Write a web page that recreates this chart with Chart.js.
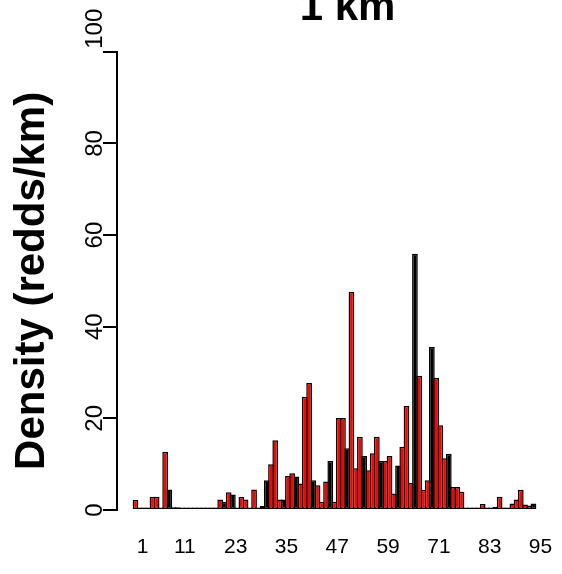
<!DOCTYPE html>
<html lang="en">
<head>
<meta charset="UTF-8">
<title>1 km</title>
<script src="https://cdn.jsdelivr.net/npm/chart.js"></script>
<style>
  html, body { margin: 0; padding: 0; background: #ffffff; }
  #reddChart { display: block; }
</style>
</head>
<body>
<canvas id="reddChart" width="562" height="574"></canvas>
<script>
// reach index (1 km sections) and redd density per section
const reachKm = [
   1,  2,  3,  4,  5,  6,  7,  8,  9, 10, 11, 12, 13, 14, 15, 16, 17, 18, 19, 20,
  21, 22, 23, 24, 25, 26, 27, 28, 29, 30, 31, 32, 33, 34, 35, 36, 37, 38, 39, 40,
  41, 42, 43, 44, 45, 46, 47, 48, 49, 50, 51, 52, 53, 54, 55, 56, 57, 58, 59, 60,
  61, 62, 63, 64, 65, 66, 67, 68, 69, 70, 71, 72, 73, 74, 75, 76, 77, 78, 79, 80,
  81, 82, 83, 84, 85, 86, 87, 88, 89, 90, 91, 92, 93, 94, 95
];
const reddDensity = [
  2.2, 0, 0, 0, 2.9, 2.9, 0, 12.7, 4.5, 0.6,
  0.6, 0, 0, 0, 0, 0, 0.5, 0, 0, 0.5,
  2.3, 1.8, 3.9, 3.4, 0, 2.9, 2.3, 0, 4.5, 0,
  0.9, 6.5, 10.0, 15.2, 2.3, 2.3, 7.4, 8.0, 7.3, 5.8,
  24.7, 27.7, 6.5, 5.4, 1.8, 6.2, 10.7, 1.8, 20.1, 20.1,
  13.5, 47.6, 9.1, 16.0, 11.8, 8.7, 12.4, 16.0, 10.7, 10.7,
  11.8, 3.6, 9.7, 13.8, 22.7, 5.9, 55.9, 29.3, 4.4, 6.5,
  35.6, 28.8, 18.5, 11.3, 12.3, 5.0, 5.0, 4.0, 0, 0,
  0, 0, 1.3, 0.5, 0.5, 0.7, 2.9, 0, 0, 1.4,
  2.3, 4.4, 1.2, 1.0, 1.4
];
// sections whose narrow bars render as solid outline
const solidBars = [9, 22, 24, 32, 36, 39, 43, 47, 51, 55, 59, 63, 67, 71, 75, 95];

const xTickLabels = ['1', '11', '23', '35', '47', '59', '71', '83', '95'];
const yTickValues = [0, 20, 40, 60, 80, 100];
const chartTitle = '1 km';

const FONT = "'Liberation Sans', Arial, Helvetica, sans-serif";

// y tick labels run parallel to the axis; the top one sits above the axis end
const sideTickLabels = {
    id: 'sideTickLabels',
    afterDraw(chart) {
        const ctx = chart.ctx;
        const y = chart.scales.y;
        const x0 = chart.chartArea.left - 15;
        const top = yTickValues[yTickValues.length - 1];
        ctx.save();
        ctx.fillStyle = '#000';
        ctx.font = '24px ' + FONT;
        ctx.textBaseline = 'alphabetic';
        yTickValues.forEach(v => {
            ctx.save();
            ctx.translate(x0, y.getPixelForValue(v) - (v === top ? 3 : 0));
            ctx.rotate(-Math.PI / 2);
            ctx.textAlign = v === top ? 'left' : 'center';
            ctx.fillText(String(v), 0, 0);
            ctx.restore();
        });
        ctx.restore();
    }
};

// bold main title, partly above the top edge
const mainTitle = {
    id: 'mainTitle',
    afterDraw(chart) {
        const { ctx, chartArea } = chart;
        ctx.save();
        ctx.fillStyle = '#000';
        ctx.font = 'bold 42px ' + FONT;
        ctx.textAlign = 'center';
        ctx.textBaseline = 'middle';
        ctx.fillText(chartTitle, (chartArea.left + chartArea.right) / 2 + 13, 8.4);
        ctx.restore();
    }
};

new Chart(document.getElementById('reddChart'), {
    type: 'bar',
    data: {
        datasets: [{
            data: reachKm.map((km, i) => ({ x: km, y: reddDensity[i] })),
            backgroundColor: c => solidBars.includes(reachKm[c.dataIndex]) ? '#000000' : '#ff0000',
            borderColor: '#000000',
            borderWidth: 1.5,
            borderSkipped: false,
            barPercentage: 1.35,
            categoryPercentage: 1,
            minBarLength: 2.5,
            clip: false
        }]
    },
    options: {
        responsive: false,
        devicePixelRatio: 1,
        animation: false,
        layout: { padding: { left: 0, right: 10, top: 51.8, bottom: 0 } },
        plugins: {
            legend: { display: false },
            tooltip: { enabled: false },
            title: { display: false }
        },
        scales: {
            x: {
                type: 'linear',
                offset: false,
                min: -3.37,
                max: 99.37,
                grid: { display: false, drawTicks: true, tickLength: 22 },
                border: { display: false },
                afterBuildTicks: axis => {
                    axis.ticks = xTickLabels.map(l => ({ value: Number(l) }));
                },
                afterFit: axis => { axis.height = 64; },
                ticks: {
                    autoSkip: false,
                    maxRotation: 0,
                    padding: 3,
                    labelOffset: 7,
                    color: '#000',
                    font: { family: FONT, size: 21 },
                    callback: v => String(v)
                }
            },
            y: {
                min: 0,
                max: 100,
                afterBuildTicks: axis => {
                    axis.ticks = yTickValues.map(v => ({ value: v }));
                },
                afterFit: axis => { axis.width = 117; },
                grid: {
                    drawOnChartArea: false,
                    drawTicks: true,
                    tickLength: 14,
                    color: '#000',
                    lineWidth: 2
                },
                border: { display: true, color: '#000', width: 2 },
                ticks: { display: false },
                title: {
                    display: true,
                    text: 'Density (redds/km)',
                    color: '#000',
                    font: { family: FONT, size: 42, weight: 'bold' },
                    padding: { top: 7, bottom: 0 }
                }
            }
        }
    },
    plugins: [sideTickLabels, mainTitle]
});
</script>
</body>
</html>
